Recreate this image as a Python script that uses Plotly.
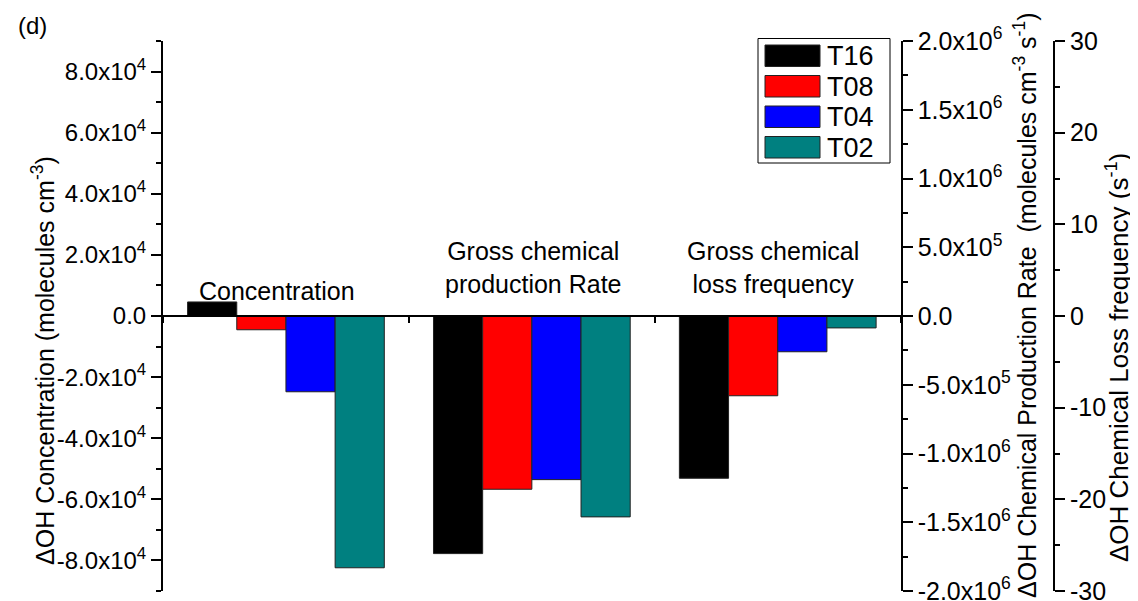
import math
import plotly.graph_objects as go

# ---------------- data ----------------
categories = ["Concentration", "Gross chemical production Rate", "Gross chemical loss frequency"]
category_labels = ["Concentration", "Gross chemical<br>production Rate", "Gross chemical<br>loss frequency"]
series = ["T16", "T08", "T04", "T02"]
colors = ["#000000", "#FF0000", "#0000FF", "#008080"]

conc = [4600, -4500, -24800, -82400]            # molecules cm-3 (left axis)
prod = [-1.728e6, -1.26e6, -1.19e6, -1.461e6]   # molecules cm-3 s-1 (right axis)
loss = [-17.7, -8.7, -3.9, -1.3]                # s-1 (far right axis)

conc_ticks = [-8e4, -6e4, -4e4, -2e4, 0, 2e4, 4e4, 6e4, 8e4]
prod_ticks = [-2e6, -1.5e6, -1e6, -5e5, 0, 5e5, 1e6, 1.5e6, 2e6]
loss_ticks = [-30, -20, -10, 0, 10, 20, 30]

# ---------------- helpers ----------------
def sci(v):
    if v == 0:
        return "0.0"
    e = int(math.floor(math.log10(abs(v))))
    m = v / 10 ** e
    return f"{m:.1f}x10<sup>{e}</sup>"

FONT = "Arial, Liberation Sans, sans-serif"
OFF = 8                      # page body margin
W, H = 1138 - OFF, 601 - OFF
# plot area in page pixels
PL, PR, PT, PB = 163, 900.7, 41, 591
ML = PL - OFF
MT = PT - OFF
MB = H - (PB - OFF)
MR = 12
PW = W - ML - MR
PH = H - MT - MB
XDOM = (PR - PL) / PW


def px_x(px):
    return (px - PL) / PW


def px_y(py):
    return (PB - py) / PH


fig = go.Figure()
axes = [("y", conc), ("y2", prod), ("y3", loss)]
for i, name in enumerate(series):
    for k, (ax, vals) in enumerate(axes):
        fig.add_trace(go.Bar(
            x=[categories[k]], y=[vals[i]], yaxis=ax, name=name,
            marker=dict(color=colors[i], line=dict(color="#222222", width=1)),
            offsetgroup=name, alignmentgroup="all", showlegend=False,
        ))

axis_common = dict(
    showline=True, linecolor="black", linewidth=2, ticks="outside",
    ticklen=10, tickwidth=2, tickcolor="black", showgrid=False, zeroline=False,
    automargin=False, ticklabeloverflow="allow",
)
minor_common = dict(ticks="outside", ticklen=5, tickwidth=2, tickcolor="black")

fig.update_layout(
    width=W, height=H,
    margin=dict(l=ML, r=MR, t=MT, b=MB, pad=0),
    paper_bgcolor="white", plot_bgcolor="white",
    barmode="group", bargap=0.2, bargroupgap=0,
    font=dict(family=FONT, size=24, color="black"),
    xaxis=dict(
        domain=[0, XDOM], type="category", categoryorder="array",
        categoryarray=categories, range=[-0.5, 2.5],
        anchor="free", position=0.5, showline=True, linecolor="black",
        linewidth=2, ticks="outside", ticklen=6, tickwidth=2, tickcolor="black",
        tickson="boundaries", showticklabels=False, showgrid=False,
        zeroline=False, automargin=False,
    ),
    yaxis=dict(
        range=[-9e4, 9e4], tickmode="array", tickvals=conc_ticks,
        ticktext=[sci(v) for v in conc_ticks],
        tickfont=dict(family=FONT, size=24, color="black"),
        minor=dict(tickmode="array", tickvals=[-9e4, -7e4, -5e4, -3e4, -1e4, 1e4, 3e4, 5e4, 7e4, 9e4],
                   **minor_common),
        **axis_common,
    ),
    yaxis2=dict(
        range=[-2e6, 2e6], overlaying="y", side="right", anchor="x",
        tickmode="array", tickvals=prod_ticks,
        ticktext=[sci(v) for v in prod_ticks],
        tickfont=dict(family=FONT, size=25, color="black"),
        minor=dict(tickmode="array", tickvals=[-1.75e6, -1.25e6, -7.5e5, -2.5e5, 2.5e5, 7.5e5, 1.25e6, 1.75e6],
                   **minor_common),
        **axis_common,
    ),
    yaxis3=dict(
        range=[-30, 30], overlaying="y", side="right", anchor="free",
        position=px_x(1054),
        tickmode="array", tickvals=loss_ticks,
        ticktext=[str(v) for v in loss_ticks],
        tickfont=dict(family=FONT, size=25, color="black"),
        minor=dict(tickmode="array", tickvals=[-25, -15, -5, 5, 15, 25], **minor_common),
        **axis_common,
    ),
)

annotations = []
# category labels
label_pos = [(277, 291), (533, 267), (773, 267)]
for lab, (cx, cy) in zip(category_labels, label_pos):
    annotations.append(dict(
        text=lab, xref="paper", yref="paper", x=px_x(cx), y=px_y(cy),
        xanchor="center", yanchor="middle", showarrow=False, align="center",
        font=dict(family=FONT, size=25, color="black"),
    ))
# axis titles
titles = [
    ("ΔOH Concentration (molecules cm<sup>-3</sup>)", 43, 361, 25),
    ("ΔOH Chemical Production Rate  (molecules cm<sup>-3</sup> s<sup>-1</sup>)", 1025, 305, 25),
    ("ΔOH Chemical Loss frequency (s<sup>-1</sup>)", 1117, 358, 26),
]
for t, cx, cy, fs in titles:
    annotations.append(dict(
        text=t, xref="paper", yref="paper", x=px_x(cx), y=px_y(cy),
        xanchor="center", yanchor="middle", textangle=-90, showarrow=False,
        font=dict(family=FONT, size=fs, color="black"),
    ))
# panel label
annotations.append(dict(
    text="(d)", xref="paper", yref="paper", x=px_x(16), y=px_y(10),
    xanchor="left", yanchor="top", showarrow=False,
    font=dict(family=FONT, size=24, color="black"),
))

# custom legend (large swatches like the original)
shapes = [dict(type="rect", xref="paper", yref="paper",
               x0=px_x(758), x1=px_x(890), y0=px_y(163), y1=px_y(38.5),
               line=dict(color="black", width=1), fillcolor="white", layer="above")]
for i, (name, col) in enumerate(zip(series, colors)):
    top = 45 + 30.5 * i
    shapes.append(dict(type="rect", xref="paper", yref="paper",
                       x0=px_x(765), x1=px_x(820), y0=px_y(top + 21.5), y1=px_y(top),
                       line=dict(color="#222222", width=1), fillcolor=col, layer="above"))
    annotations.append(dict(
        text=name, xref="paper", yref="paper", x=px_x(825), y=px_y(top + 11),
        xanchor="left", yanchor="middle", showarrow=False,
        font=dict(family=FONT, size=27, color="black"),
    ))

fig.update_layout(annotations=annotations, shapes=shapes)
fig.write_html("out.html")
